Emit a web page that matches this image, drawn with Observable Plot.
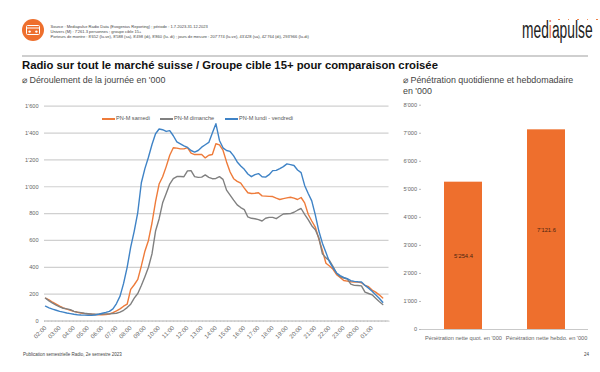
<!DOCTYPE html>
<html lang="fr"><head><meta charset="utf-8">
<script src="https://cdn.jsdelivr.net/npm/d3@7"></script>
<script src="https://cdn.jsdelivr.net/npm/@observablehq/plot@0.6"></script>
<style>
html,body{margin:0;padding:0;background:#fff}
#page{position:relative;width:600px;height:372px;overflow:hidden;font-family:"Liberation Sans",Arial,sans-serif;color:#333}
#page>*{position:absolute}
.src{left:50.5px;top:23.6px;font-size:4.05px;line-height:5px;color:#444;white-space:nowrap}
.rule{left:22px;top:55px;width:566px;height:2px;background:#cfcfcf}
.title{left:22px;top:57.5px;font-size:11.3px;line-height:14px;font-weight:700;color:#111;white-space:nowrap}
.sub{font-size:8.9px;line-height:11.5px;color:#444}
.foot{font-size:4.5px;color:#444;white-space:nowrap}
.legend{left:0;top:0;font-size:5.6px;color:#555}
.legend span{position:absolute;top:115.2px;white-space:nowrap}
.legend i{position:absolute;top:118px;height:1.5px;width:13px}
.logo{left:522px;top:17px;font-size:23px;line-height:26px;color:#222;transform-origin:0 0;transform:scaleX(.6);white-space:nowrap}
.logo b{font-weight:400;color:#ee6f2d}
.dot{width:1.6px;height:1.6px;border-radius:50%;background:#ee6f2d;top:18.5px}
svg{display:block}
</style></head><body>
<div id="page">
  <svg style="left:22px;top:19px" width="22" height="22" viewBox="0 0 22 22"><circle cx="11" cy="11" r="11" fill="#ee6f2d"/><rect x="4.5" y="6.5" width="13" height="9" rx="1" fill="none" stroke="#fff" stroke-width="1"/><path d="M4.5 9h13" stroke="#fff" stroke-width="1"/><circle cx="7.6" cy="12.6" r="1.2" fill="#fff"/><circle cx="14.4" cy="12.6" r="1.2" fill="#fff"/></svg>
  <div class="src">Source : Mediapulse Radio Data (Evogenius Reporting) ; période : 1.7.2023-31.12.2023<br>Univers (M) : 7'261.3 personnes ; groupe cible 15+<br>Porteurs de montre : 8'652 (lu-ve), 8'588 (sa), 8'498 (di), 8'860 (lu- di) ; jours de mesure : 207'774 (lu-ve), 43'428 (sa), 42'764 (di), 293'966 (lu-di)</div>
  <div class="logo">med<b>i</b>apulse</div>
  <div class="dot" style="left:558px"></div><div class="dot" style="left:567.5px"></div><div class="dot" style="left:577px"></div><div class="dot" style="left:586.5px"></div><div class="dot" style="left:596px"></div>
  <div class="rule"></div>
  <div class="title">Radio sur tout le marché suisse / Groupe cible 15+ pour comparaison croisée</div>
  <div class="sub" style="left:22px;top:74.5px">⌀ Déroulement de la journée en '000</div>
  <div class="sub" style="left:403px;top:74.5px;width:180px">⌀ Pénétration quotidienne et hebdomadaire<br>en '000</div>
  <div id="lines" style="left:0;top:95px"></div>
  <div id="bars" style="left:395px;top:95px"></div>
  <div class="legend">
    <i style="left:102px;background:#ee7b3a"></i><span style="left:116px">PN-M samedi</span>
    <i style="left:160px;background:#808080"></i><span style="left:174px">PN-M dimanche</span>
    <i style="left:225px;background:#3f83c6"></i><span style="left:239px">PN-M lundi - vendredi</span>
  </div>
  <div class="foot" style="left:23px;top:351.5px">Publication semestrielle Radio, 2e semestre 2023</div>
  <div class="foot" style="left:584px;top:351.5px">24</div>
</div>
<script>
const samedi = [170,158,140,125,110,98,88,80,72,65,60,55,52,50,48,47,47,48,52,62,75,90,110,125,235,270,310,410,520,600,730,890,1020,1075,1150,1235,1290,1288,1282,1282,1292,1250,1240,1240,1240,1215,1235,1240,1320,1312,1272,1185,1110,1060,1040,1027,990,955,950,952,955,932,930,928,927,915,905,912,917,922,915,905,920,880,795,745,700,610,525,430,410,385,345,325,302,297,292,290,290,285,265,255,230,215,195,172];
const dimanche = [170,150,133,118,105,95,90,85,72,66,62,58,55,52,50,50,52,53,53,56,58,66,80,100,125,170,205,264,330,400,500,670,760,880,950,1020,1060,1076,1076,1075,1118,1120,1075,1070,1072,1088,1070,1060,1062,1075,1055,975,938,900,865,845,830,775,765,762,755,745,765,772,772,762,780,797,799,800,810,825,838,795,755,710,680,620,500,470,450,405,355,330,320,312,275,265,264,262,215,205,195,170,145,123];
const semaine = [110,98,88,80,72,66,60,55,50,47,45,44,43,42,45,50,58,64,72,90,130,185,280,400,550,670,810,1030,1135,1220,1315,1395,1430,1425,1412,1418,1380,1335,1320,1305,1293,1270,1258,1270,1295,1313,1330,1400,1470,1345,1290,1270,1263,1230,1185,1155,1130,1095,1075,1090,1098,1075,1072,1090,1120,1122,1135,1150,1170,1165,1158,1125,1105,1010,950,895,790,670,580,510,440,395,358,338,325,315,300,295,292,290,265,245,222,195,170,140];
const hourDomain = [1.93, 26.19];
const hourTicks = [2,3,4,5,6,7,8,9,10,11,12,13,14,15,16,17,18,19,20,21,22,23,24,25];
const lineTicks = [0,200,400,600,800,1000,1200,1400,1600];
const barCategories = ["Pénétration nette quot. en '000","Pénétration nette hebdo. en '000"];
const barValues = [5254.4,7121.6];
const barTicks = [0,1000,2000,3000,4000,5000,6000,7000,8000];

const series = [["samedi",samedi,"#ee7b3a"],["dimanche",dimanche,"#808080"],["semaine",semaine,"#3f83c6"]];
const slot = i => 2 + i / 4;
const fmt = d3.formatLocale({decimal:".",thousands:"'",grouping:[3],currency:["",""]});
const int = fmt.format(",d"), dec = fmt.format(",.1f");
const hhmm = h => String(h % 24).padStart(2,"0") + ":00";
const quarters = d3.range(97).map(i => hourDomain[0] + i * (hourDomain[1]-hourDomain[0]) / 96);
const font = {fontFamily:"Liberation Sans, Arial, sans-serif", background:"transparent", overflow:"visible"};

document.getElementById("lines").append(Plot.plot({
  width:400, height:260, marginLeft:44, marginRight:11.5, marginTop:10.7, marginBottom:34.5,
  style:font,
  x:{domain:hourDomain},
  y:{domain:[0,1600]},
  marks:[
    Plot.gridY(lineTicks,{stroke:"#d0d0d0",strokeOpacity:1,strokeWidth:1.2}),
    Plot.ruleY([0],{stroke:"#c4c4c4",strokeWidth:.8}),
    Plot.axisX({ticks:quarters,tickSize:1.5,stroke:"#bbb",strokeWidth:.6,text:null}),
    Plot.axisX({ticks:hourTicks,tickSize:0,tickPadding:6,tickRotate:-45,tickFormat:hhmm,fontSize:6,fill:"#666",textAnchor:"end",label:null}),
    Plot.axisY({ticks:lineTicks,tickSize:0,tickPadding:6,tickFormat:int,fontSize:5.6,fill:"#666",label:null}),
    ...series.map(([,vals,col]) => Plot.line(vals,{x:(d,i)=>slot(i),y:d=>d,stroke:col,strokeWidth:1.4,curve:"linear"}))
  ]
}));

document.getElementById("bars").append(Plot.plot({
  width:205, height:250, marginLeft:26, marginRight:12, marginTop:9.7, marginBottom:16,
  style:font,
  x:{domain:barCategories,paddingInner:.545,paddingOuter:.27,align:.5},
  y:{domain:[0,8000]},
  marks:[
    Plot.barY(barValues,{x:(d,i)=>barCategories[i],y:d=>d,fill:"#ee6f2d"}),
    Plot.ruleY([0],{stroke:"#bbb",strokeWidth:.8}),
    Plot.ruleX([0],{frameAnchor:"left",stroke:"#bbb",strokeWidth:.8}),
    Plot.axisY({ticks:barTicks,tickSize:2,tickPadding:2.5,stroke:"#bbb",tickFormat:int,fontSize:5.6,fill:"#666",label:null}),
    Plot.axisX({tickSize:0,tickPadding:6,fontSize:5.65,fill:"#666",label:null,lineWidth:Infinity}),
    Plot.text(barValues,{x:(d,i)=>barCategories[i],y:d=>d/2,text:d=>dec(d),fontSize:5.8,fill:"#4a2410"})
  ]
}));
</script>
</body></html>
